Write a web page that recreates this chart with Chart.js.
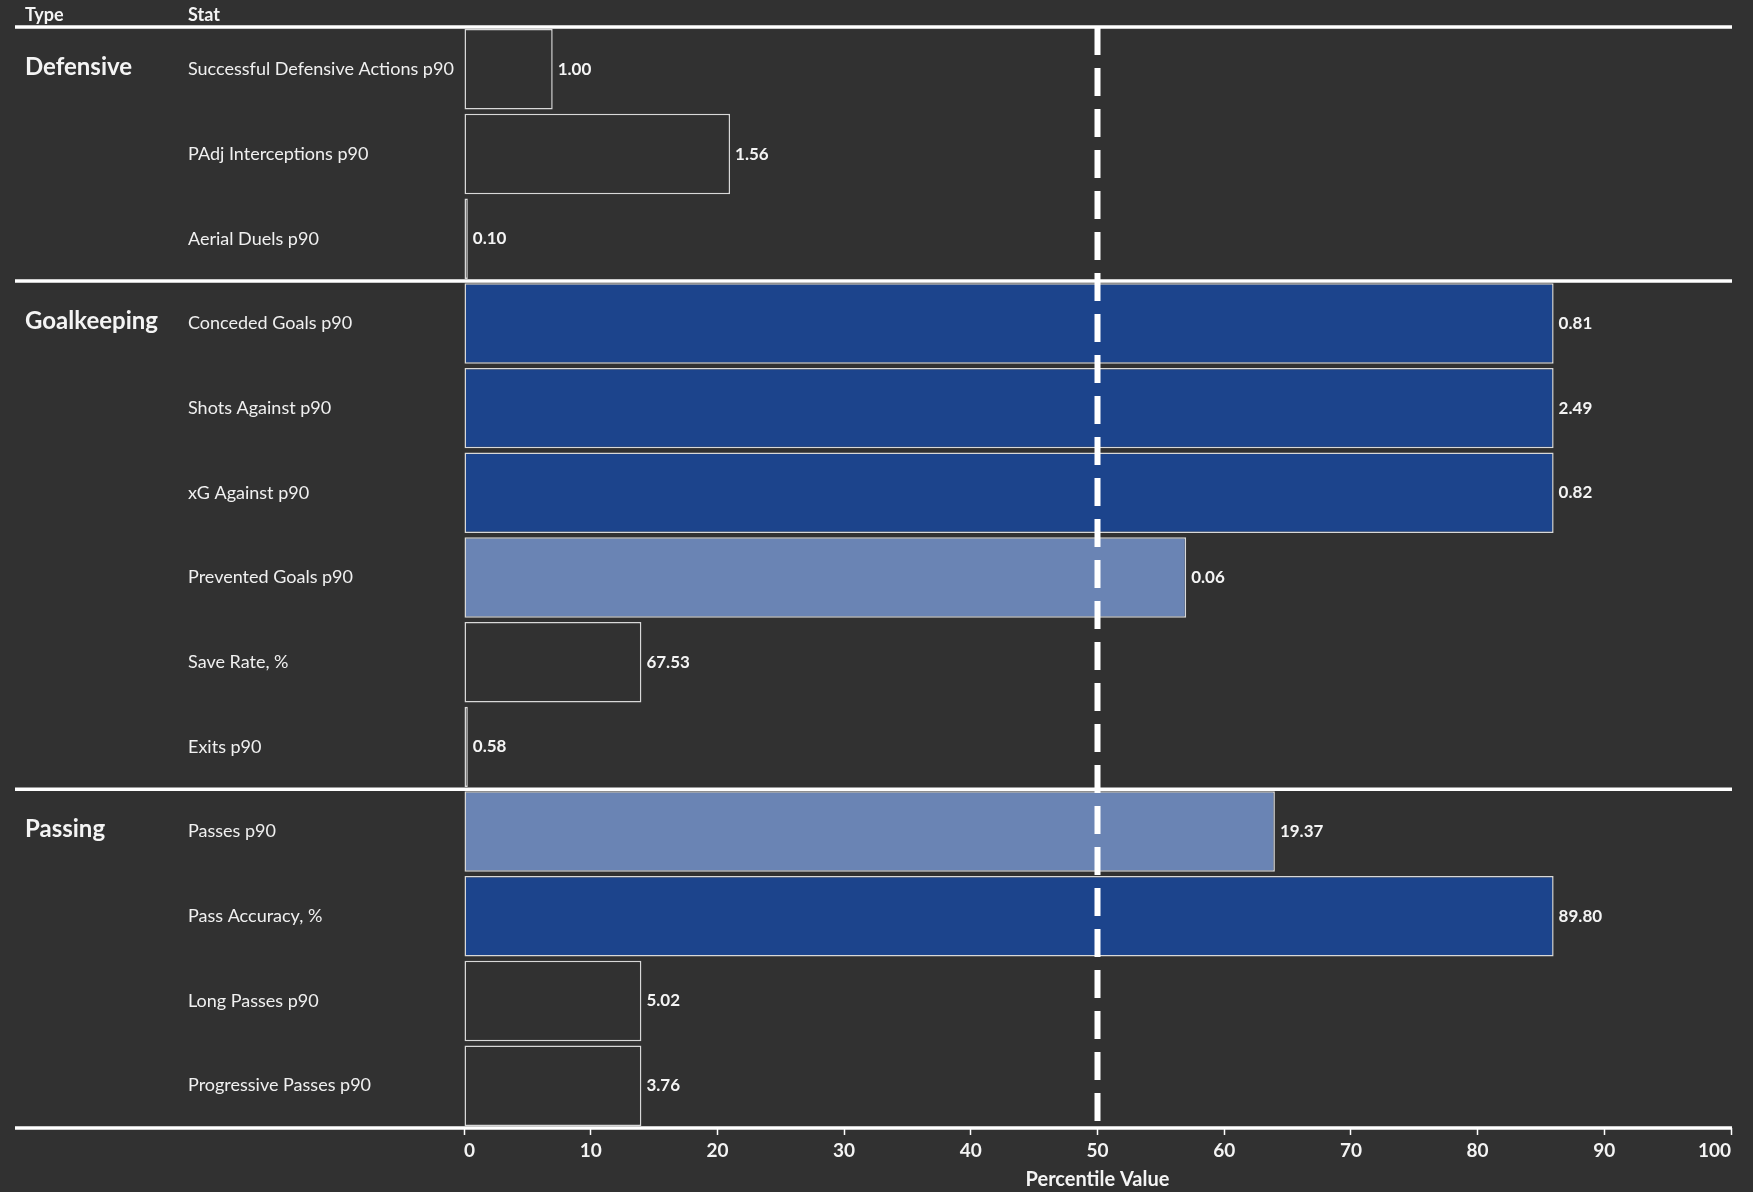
<!DOCTYPE html>
<html>
<head>
<meta charset="utf-8">
<script src="https://cdn.jsdelivr.net/npm/chart.js@4.4.1/dist/chart.umd.min.js"></script>
<style>
  html, body { margin: 0; padding: 0; background: #313131; }
  #wrap { width: 1753px; height: 1192px; }
</style>
</head>
<body>
<div id="wrap"><canvas id="percentile-chart"></canvas></div>
<script>
var stats = [
  'Successful Defensive Actions p90',
  'PAdj Interceptions p90',
  'Aerial Duels p90',
  'Conceded Goals p90',
  'Shots Against p90',
  'xG Against p90',
  'Prevented Goals p90',
  'Save Rate, %',
  'Exits p90',
  'Passes p90',
  'Pass Accuracy, %',
  'Long Passes p90',
  'Progressive Passes p90'
];
var types = ['Defensive', 'Goalkeeping', 'Passing'];
var typeCounts = [3, 6, 4];
var percentiles = [7, 21, 0.3, 86, 86, 86, 57, 14, 0.3, 64, 86, 14, 14];
var rawValues = ['1.00', '1.56', '0.10', '0.81', '2.49', '0.82', '0.06', '67.53', '0.58', '19.37', '89.80', '5.02', '3.76'];
var xTicks = [0, 10, 20, 30, 40, 50, 60, 70, 80, 90, 100];
var average = 50;

var BG = '#313131';
var FONT = 'Lato, "Open Sans", sans-serif';

function barColor(p) {
  if (p >= 80) return '#1c448c';
  if (p >= 50) return '#6a84b4';
  return BG;
}

var tablePlugin = {
  id: 'tablePlugin',
  afterDatasetsDraw: function(chart) {
    var ctx = chart.ctx;
    var area = chart.chartArea;
    var x = chart.scales.x;
    var y = chart.scales.y;
    ctx.save();

    // value labels
    ctx.fillStyle = '#f4f4f4';
    ctx.font = 'bold 17px ' + FONT;
    ctx.textAlign = 'left';
    ctx.textBaseline = 'middle';
    chart.getDatasetMeta(0).data.forEach(function(bar, i) {
      ctx.fillText(rawValues[i], bar.x + 5, bar.y);
    });

    // separators
    var lines = [area.top];
    var idx = 0;
    for (var t = 0; t < typeCounts.length - 1; t++) {
      idx += typeCounts[t];
      lines.push((y.getPixelForValue(idx - 1) + y.getPixelForValue(idx)) / 2);
    }
    lines.push(area.bottom);
    ctx.strokeStyle = '#ffffff';
    ctx.lineWidth = 3.5;
    lines.forEach(function(ly) {
      ctx.beginPath();
      ctx.moveTo(15, ly);
      ctx.lineTo(area.right + 1, ly);
      ctx.stroke();
    });

    // 50th percentile line
    var mx = x.getPixelForValue(average);
    ctx.setLineDash([28, 13]);
    ctx.lineWidth = 6;
    ctx.beginPath();
    ctx.moveTo(mx, area.top);
    ctx.lineTo(mx, area.bottom);
    ctx.stroke();
    ctx.setLineDash([]);

    // header
    ctx.fillStyle = '#f4f4f4';
    ctx.font = 'bold 18px ' + FONT;
    ctx.textBaseline = 'alphabetic';
    ctx.fillText('Type', 25, 21);
    ctx.fillText('Stat', 188, 21);

    // type labels
    ctx.font = 'bold 24px ' + FONT;
    ctx.textBaseline = 'middle';
    var start = 0;
    types.forEach(function(name, k) {
      ctx.fillText(name, 25, y.getPixelForValue(start) - 2);
      start += typeCounts[k];
    });
    ctx.restore();
  }
};

var config = {
  type: 'bar',
  data: {
    labels: stats,
    datasets: [
      {
        data: percentiles,
        backgroundColor: percentiles.map(barColor),
        borderColor: '#d8d8d8',
        borderWidth: 1.5,
        borderSkipped: false,
        categoryPercentage: 1,
        barPercentage: 0.95
      }
    ]
  },
  options: {
    indexAxis: 'y',
    responsive: true,
    maintainAspectRatio: false,
    animation: false,
    layout: {
      padding: { left: 188, right: 22, top: 27, bottom: 0 }
    },
    plugins: {
      legend: { display: false },
      tooltip: { enabled: false }
    },
    scales: {
      x: {
        min: 0,
        max: 100,
        afterBuildTicks: function(scale) {
          scale.ticks = xTicks.map(function(v) { return { value: v }; });
        },
        afterFit: function(scale) {
          scale.height = 64;
        },
        border: { display: false },
        grid: {
          drawOnChartArea: false,
          drawTicks: true,
          tickLength: 7,
          tickWidth: 1.5,
          color: '#ffffff'
        },
        ticks: {
          color: '#f4f4f4',
          padding: 4,
          align: 'inner',
          maxRotation: 0,
          font: { family: FONT, size: 19, weight: 'bold' }
        },
        title: {
          display: true,
          text: 'Percentile Value',
          color: '#f4f4f4',
          padding: { top: 0, bottom: 0 },
          font: { family: FONT, size: 20, weight: 'bold' }
        }
      },
      y: {
        afterFit: function(scale) {
          scale.width = 276;
        },
        border: { display: false },
        grid: { display: false },
        ticks: {
          autoSkip: false,
          crossAlign: 'far',
          color: '#f0f0f0',
          font: { family: FONT, size: 18 }
        }
      }
    }
  },
  plugins: [tablePlugin]
};

var ctx = document.getElementById('percentile-chart').getContext('2d');
var percentileChart = new Chart(ctx, config);
</script>
</body>
</html>
